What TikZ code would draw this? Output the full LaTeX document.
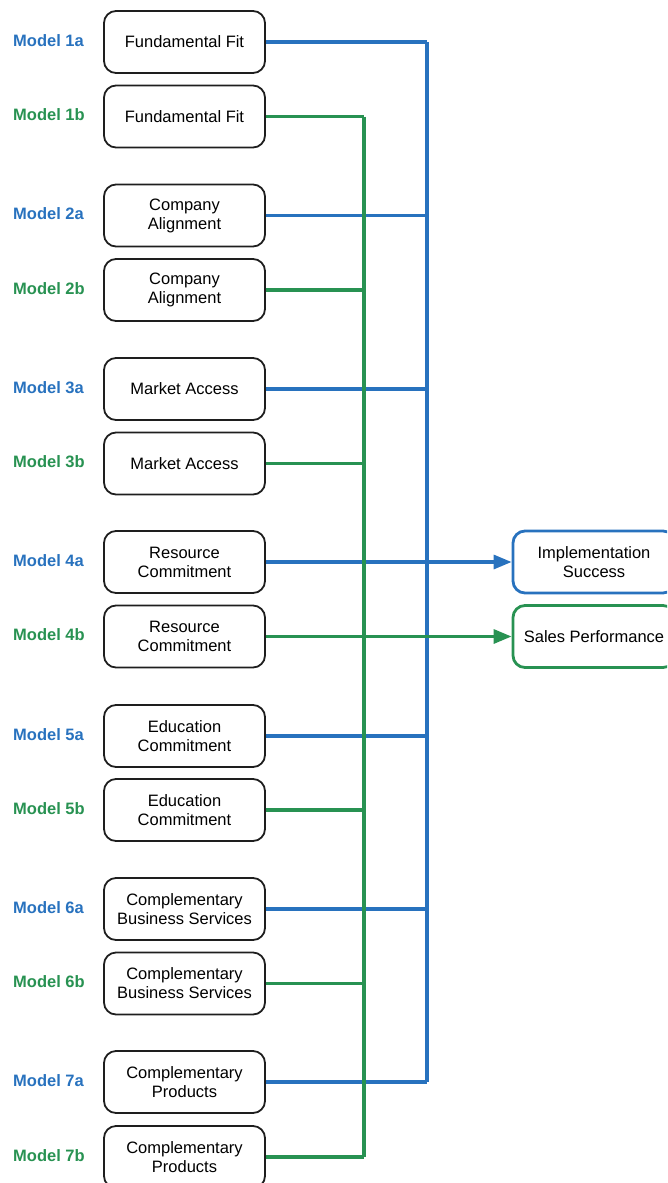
\documentclass[tikz,border=0pt]{standalone}
\usepackage{fontspec}
\setmainfont{Liberation Sans}
\usetikzlibrary{arrows.meta}
\definecolor{mblue}{RGB}{40,114,190}
\definecolor{mgreen}{RGB}{40,146,82}
\definecolor{boxline}{RGB}{30,30,30}
\begin{document}
\begin{tikzpicture}[x=1pt,y=-1pt,
  fbox/.style={draw=boxline,line width=1.8pt,rounded corners=12pt,minimum width=161pt,minimum height=62pt,inner sep=0pt,align=center,font=\fontsize{16.5}{19}\selectfont},
  obox/.style={fbox,line width=2.8pt,minimum width=162pt},
  mlabel/.style={anchor=west,inner sep=0pt,font=\fontsize{16.5}{19}\selectfont\bfseries},
  bline/.style={draw=mblue,line width=3.2pt},
  gline/.style={draw=mgreen,line width=3.2pt},
  arr/.style={-{Triangle[length=18pt,width=14pt]}}]
\useasboundingbox (0,0) rectangle (667,1183);
\clip (0,0) rectangle (667,1183);
% left boxes
\node[fbox] (b1a) at (184.5,42) {Fundamental Fit};
\node[fbox] (b1b) at (184.5,116.5) {Fundamental Fit};
\node[fbox] (b2a) at (184.5,215.5) {Company\\Alignment};
\node[fbox] (b2b) at (184.5,290) {Company\\Alignment};
\node[fbox] (b3a) at (184.5,389) {Market Access};
\node[fbox] (b3b) at (184.5,463.5) {Market Access};
\node[fbox] (b4a) at (184.5,562) {Resource\\Commitment};
\node[fbox] (b4b) at (184.5,636.5) {Resource\\Commitment};
\node[fbox] (b5a) at (184.5,736) {Education\\Commitment};
\node[fbox] (b5b) at (184.5,810) {Education\\Commitment};
\node[fbox] (b6a) at (184.5,909) {Complementary\\Business Services};
\node[fbox] (b6b) at (184.5,983.5) {Complementary\\Business Services};
\node[fbox] (b7a) at (184.5,1082) {Complementary\\Products};
\node[fbox] (b7b) at (184.5,1157) {Complementary\\Products};
% labels
\node[mlabel,text=mblue] (l1a) at (13,40.5) {Model 1a};
\node[mlabel,text=mgreen] (l1b) at (13,114.5) {Model 1b};
\node[mlabel,text=mblue] (l2a) at (13,214) {Model 2a};
\node[mlabel,text=mgreen] (l2b) at (13,288.5) {Model 2b};
\node[mlabel,text=mblue] (l3a) at (13,387.5) {Model 3a};
\node[mlabel,text=mgreen] (l3b) at (13,462) {Model 3b};
\node[mlabel,text=mblue] (l4a) at (13,560.5) {Model 4a};
\node[mlabel,text=mgreen] (l4b) at (13,635) {Model 4b};
\node[mlabel,text=mblue] (l5a) at (13,734.5) {Model 5a};
\node[mlabel,text=mgreen] (l5b) at (13,808.5) {Model 5b};
\node[mlabel,text=mblue] (l6a) at (13,907.5) {Model 6a};
\node[mlabel,text=mgreen] (l6b) at (13,982) {Model 6b};
\node[mlabel,text=mblue] (l7a) at (13,1080.5) {Model 7a};
\node[mlabel,text=mgreen] (l7b) at (13,1155.5) {Model 7b};
% outcome boxes
\node[obox,draw=mblue] (impl) at (594,562) {Implementation\\Success};
\node[obox,draw=mgreen] (sales) at (594,636.5) {Sales Performance};
% buses
\coordinate (busB) at (427,0);
\coordinate (busG) at (364,0);
% blue connectors
\foreach \n in {1a,2a,3a,5a,6a,7a}{
  \draw[bline] (b\n.east) -- (b\n.east -| busB);
}
\draw[bline] (b1a.east -| busB) -- (b7a.east -| busB);
\draw[bline,arr] (b4a.east) -- (impl.west);
% green connectors
\foreach \n in {1b,2b,3b,5b,6b,7b}{
  \draw[gline] (b\n.east) -- (b\n.east -| busG);
}
\draw[gline] (b1b.east -| busG) -- (b7b.east -| busG);
\draw[gline,arr] (b4b.east) -- (sales.west);
\end{tikzpicture}
\end{document}
